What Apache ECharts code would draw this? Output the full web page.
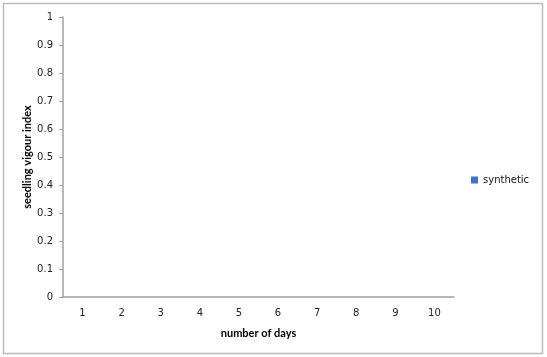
<!DOCTYPE html>
<html><head><meta charset="utf-8">
<script src="https://cdn.jsdelivr.net/npm/echarts@6/dist/echarts.min.js"></script>
<style>html,body{margin:0;padding:0;background:#fff}#c{width:547px;height:357px}</style>
</head><body><div id="c"></div>
<script>
const categories = ['1','2','3','4','5','6','7','8','9','10'];
const syntheticValues = [null,null,null,null,null,null,null,null,null,null];
const yTicks = [0,0.1,0.2,0.3,0.4,0.5,0.6,0.7,0.8,0.9,1];
const seriesName = 'synthetic';

const chart = echarts.init(document.getElementById('c'), null, {renderer:'canvas'});
chart.setOption({
  animation:false,
  backgroundColor:'#fff',
  graphic:[{type:'rect',shape:{x:3.5,y:3.5,width:539,height:350},style:{fill:'none',stroke:'#bcbcbc',lineWidth:1.5}}],
  grid:{left:63,top:17,right:93,bottom:60,containLabel:false},
  legend:{data:[seriesName],left:466,top:170,orient:'vertical',itemWidth:7,itemHeight:7,itemGap:4,icon:'rect',
    textStyle:{fontFamily:'DejaVu Sans',fontSize:10,color:'#111'}},
  xAxis:{type:'category',data:categories,
    name:'number of days',nameLocation:'middle',nameGap:31,nameMoveOverlap:false,
    nameTextStyle:{fontFamily:'Lato',fontWeight:'bold',fontSize:11,color:'#000'},
    axisLine:{lineStyle:{color:'#a0a0a0',width:1.5}},axisTick:{show:false},
    axisLabel:{fontFamily:'DejaVu Sans',fontSize:10,color:'#222',margin:11}},
  yAxis:{type:'value',min:0,max:1,interval:0.1,
    name:'seedling vigour index',nameLocation:'middle',nameGap:30,nameMoveOverlap:false,
    nameTextStyle:{fontFamily:'Lato',fontWeight:'bold',fontSize:11,color:'#000'},
    axisLine:{show:true,lineStyle:{color:'#a0a0a0',width:1.5}},
    axisTick:{show:true,length:4,lineStyle:{color:'#a0a0a0'}},
    splitLine:{show:false},
    axisLabel:{fontFamily:'DejaVu Sans',fontSize:10,color:'#222',margin:10,
      formatter:v=>{const t=yTicks.find(x=>Math.abs(x-v)<1e-9);return t===undefined?'':String(t);}}},
  series:[{name:seriesName,type:'bar',data:syntheticValues,itemStyle:{color:'#4472C4'}}]
});
</script></body></html>
